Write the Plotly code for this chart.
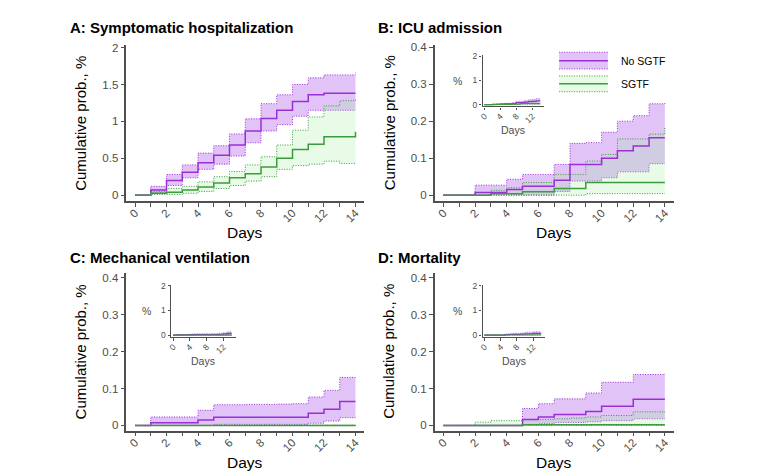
import plotly.graph_objects as go

W, H = 780, 475
FONT = "Liberation Sans"

days = list(range(15))

# Panel A: Symptomatic hospitalization
a_no = [0, 0.07, 0.20, 0.31, 0.44, 0.54, 0.68, 0.87, 1.04, 1.15, 1.27, 1.36, 1.38, 1.38, 1.38]
a_no_hi = [0, 0.12, 0.28, 0.41, 0.57, 0.67, 0.83, 1.035, 1.24, 1.36, 1.50, 1.59, 1.63, 1.63, 1.66]
a_no_lo = [0, 0.035, 0.13, 0.235, 0.35, 0.42, 0.53, 0.71, 0.87, 0.955, 1.07, 1.15, 1.15, 1.15, 1.15]
a_sg = [0, 0.027, 0.04, 0.07, 0.11, 0.165, 0.235, 0.29, 0.38, 0.50, 0.62, 0.69, 0.79, 0.79, 0.86]
a_sg_hi = [0, 0.05, 0.09, 0.12, 0.18, 0.25, 0.32, 0.41, 0.52, 0.68, 0.88, 1.06, 1.21, 1.28, 1.30]
a_sg_lo = [0, 0.01, 0.01, 0.025, 0.05, 0.09, 0.13, 0.19, 0.25, 0.35, 0.40, 0.42, 0.46, 0.43, 0.43]

# Panel B: ICU admission
b_no = [0, 0, 0.007, 0.007, 0.015, 0.024, 0.024, 0.04, 0.083, 0.083, 0.10, 0.12, 0.133, 0.155, 0.155]
b_no_hi = [0, 0, 0.027, 0.027, 0.043, 0.056, 0.056, 0.083, 0.14, 0.142, 0.17, 0.20, 0.215, 0.247, 0.25]
b_no_lo = [0, 0, 0, 0, 0, 0, 0, 0.01, 0.038, 0.038, 0.047, 0.063, 0.063, 0.085, 0.085]
b_sg = [0, 0, 0, 0.004, 0.004, 0.009, 0.009, 0.018, 0.018, 0.034, 0.034, 0.034, 0.034, 0.034, 0.034]
b_sg_hi = [0, 0, 0, 0.013, 0.02, 0.034, 0.034, 0.056, 0.056, 0.092, 0.11, 0.152, 0.152, 0.165, 0.185]
b_sg_lo = [0, 0, 0, 0, 0, 0, 0, 0, 0, 0.004, 0.004, 0.004, 0.004, 0.004, 0.004]

# Panel C: Mechanical ventilation
c_no = [0, 0.007, 0.007, 0.007, 0.015, 0.022, 0.022, 0.022, 0.022, 0.022, 0.022, 0.033, 0.044, 0.065, 0.065]
c_no_hi = [0, 0.023, 0.023, 0.023, 0.041, 0.056, 0.056, 0.057, 0.057, 0.058, 0.059, 0.077, 0.095, 0.13, 0.13]
c_no_lo = [0, 0, 0, 0, 0, 0.003, 0.003, 0.003, 0.003, 0.003, 0.003, 0.006, 0.012, 0.021, 0.021]
c_sg = [0] * 15
c_sg_hi = [0, 0, 0, 0, 0, 0.001, 0.001, 0.001, 0.001, 0.001, 0.001, 0.001, 0.001, 0.001, 0.001]
c_sg_lo = [0] * 15

# Panel D: Mortality
d_no = [0, 0, 0, 0, 0, 0.016, 0.023, 0.03, 0.03, 0.038, 0.052, 0.052, 0.071, 0.071, 0.071]
d_no_hi = [0, 0, 0, 0, 0, 0.046, 0.059, 0.072, 0.072, 0.088, 0.117, 0.117, 0.138, 0.138, 0.14]
d_no_lo = [0, 0, 0, 0, 0, 0.002, 0.005, 0.008, 0.008, 0.01, 0.013, 0.013, 0.018, 0.018, 0.018]
d_sg = [0, 0, 0, 0, 0, 0.002, 0.002, 0.002, 0.002, 0.002, 0.002, 0.002, 0.002, 0.002, 0.002]
d_sg_hi = [0, 0, 0.009, 0.013, 0.013, 0.016, 0.016, 0.018, 0.02, 0.023, 0.027, 0.027, 0.037, 0.037, 0.035]
d_sg_lo = [0] * 15

titles = ["A: Symptomatic hospitalization", "B: ICU admission",
          "C: Mechanical ventilation", "D: Mortality"]
series_names = ["No SGTF", "SGTF"]

PUR_LINE = "#9b2fd6"
PUR_FILL = "rgba(150,40,230,0.28)"
GRN_LINE = "#3d9a3d"
GRN_FILL = "rgba(144,238,144,0.22)"
AX = "#505050"
TXT = "#4d4d4d"
DOT = "1px,1.5px"


def px(x):
    return x / W


def py(y):
    return 1 - y / H


fig = go.Figure()

panels = [
    dict(data=(a_no, a_no_hi, a_no_lo, a_sg, a_sg_hi, a_sg_lo), xd=(123, 362), yd=(42, 200),
         yr=[-0.08, 2.03], yt=[0, 0.5, 1, 1.5, 2], ytt=["0", "0.5", "1", "1.5", "2"], inset=None),
    dict(data=(b_no, b_no_hi, b_no_lo, b_sg, b_sg_hi, b_sg_lo), xd=(433, 673), yd=(42, 200),
         yr=[-0.016, 0.405], yt=[0, 0.1, 0.2, 0.3, 0.4], ytt=["0", "0.1", "0.2", "0.3", "0.4"],
         inset=dict(xd=(481, 543), yd=(52, 104))),
    dict(data=(c_no, c_no_hi, c_no_lo, c_sg, c_sg_hi, c_sg_lo), xd=(123, 362), yd=(273, 433),
         yr=[-0.014, 0.413], yt=[0, 0.1, 0.2, 0.3, 0.4], ytt=["0", "0.1", "0.2", "0.3", "0.4"],
         inset=dict(xd=(168, 233), yd=(285, 338))),
    dict(data=(d_no, d_no_hi, d_no_lo, d_sg, d_sg_hi, d_sg_lo), xd=(433, 673), yd=(273, 433),
         yr=[-0.014, 0.413], yt=[0, 0.1, 0.2, 0.3, 0.4], ytt=["0", "0.1", "0.2", "0.3", "0.4"],
         inset=dict(xd=(481, 544), yd=(285, 338))),
]


def add_series(data, xa, ya, lw, bw):
    no, no_hi, no_lo, sg, sg_hi, sg_lo = data
    common = dict(x=days, mode="lines", xaxis=xa, yaxis=ya, showlegend=False, hoverinfo="skip")
    fig.add_trace(go.Scatter(y=no_lo, line=dict(color=PUR_LINE, width=bw, dash=DOT, shape="hv"), **common))
    fig.add_trace(go.Scatter(y=no_hi, fill="tonexty", fillcolor=PUR_FILL,
                             line=dict(color=PUR_LINE, width=bw, dash=DOT, shape="hv"), **common))
    fig.add_trace(go.Scatter(y=sg_lo, line=dict(color=GRN_LINE, width=bw, dash=DOT, shape="hv"), **common))
    fig.add_trace(go.Scatter(y=sg_hi, fill="tonexty", fillcolor=GRN_FILL,
                             line=dict(color=GRN_LINE, width=bw, dash=DOT, shape="hv"), **common))
    fig.add_trace(go.Scatter(y=no, line=dict(color=PUR_LINE, width=lw, shape="hv"), name=series_names[0], **common))
    fig.add_trace(go.Scatter(y=sg, line=dict(color=GRN_LINE, width=lw, shape="hv"), name=series_names[1], **common))


layout = {}
annotations = []
ax_n = 0
xtick_vals = list(range(15))
xtick_text = [str(d) if d % 2 == 0 else "" for d in xtick_vals]

for i, p in enumerate(panels):
    ax_n += 1
    xa, ya = f"x{ax_n}", f"y{ax_n}"
    add_series(p["data"], xa, ya, 1.5, 1)
    layout[f"xaxis{ax_n}"] = dict(
        domain=[px(p["xd"][0]), px(p["xd"][1])], anchor=ya, range=[-0.55, 14.55],
        tickvals=xtick_vals, ticktext=xtick_text, tickangle=-45, ticklabelstandoff=-5,
        showline=True, linecolor=AX, linewidth=1.5, ticks="outside", ticklen=4,
        tickcolor=AX, tickwidth=1.2, showgrid=False, zeroline=False,
        tickfont=dict(family=FONT, size=11.5, color=TXT), fixedrange=True)
    layout[f"yaxis{ax_n}"] = dict(
        domain=[py(p["yd"][1]), py(p["yd"][0])], anchor=xa, range=p["yr"],
        tickvals=p["yt"], ticktext=p["ytt"],
        showline=True, linecolor=AX, linewidth=1.5, ticks="outside", ticklen=4,
        tickcolor=AX, tickwidth=1.2, showgrid=False, zeroline=False,
        tickfont=dict(family=FONT, size=11.5, color=TXT), fixedrange=True)
    tx = 64 if i % 2 == 0 else 374
    ty = 24 if i < 2 else 257
    annotations.append(dict(text=f"<b>{titles[i]}</b>", x=px(tx), y=py(ty), xref="paper", yref="paper",
                            xanchor="left", yanchor="middle", showarrow=False,
                            font=dict(family=FONT, size=15, color="black")))
    cx = (p["xd"][0] + 8 + p["xd"][1] - 9) / 2
    cy = (p["yd"][0] + p["yd"][1]) / 2
    annotations.append(dict(text="Cumulative prob., %", x=px(p["xd"][0] - 46), y=py(cy), xref="paper",
                            yref="paper", textangle=-90, xanchor="center", yanchor="middle",
                            showarrow=False, font=dict(family=FONT, size=15, color="black")))
    annotations.append(dict(text="Days", x=px(cx), y=py(p["yd"][1] + 32), xref="paper", yref="paper",
                            xanchor="center", yanchor="middle", showarrow=False,
                            font=dict(family=FONT, size=15.5, color="black")))
    ins = p["inset"]
    if ins:
        ax_n += 1
        xa, ya = f"x{ax_n}", f"y{ax_n}"
        add_series(p["data"], xa, ya, 1.2, 0.6)
        layout[f"xaxis{ax_n}"] = dict(
            domain=[px(ins["xd"][0]), px(ins["xd"][1])], anchor=ya, range=[-0.5, 15],
            tickvals=[0, 4, 8, 12], ticktext=["0", "4", "8", "12"], tickangle=-45, ticklabelstandoff=-2,
            showline=True, linecolor=AX, linewidth=1.2, ticks="outside", ticklen=2.5,
            tickcolor=AX, tickwidth=1, showgrid=False, zeroline=False,
            tickfont=dict(family=FONT, size=8.5, color=TXT), fixedrange=True)
        layout[f"yaxis{ax_n}"] = dict(
            domain=[py(ins["yd"][1]), py(ins["yd"][0])], anchor=xa, range=[-0.08, 2.04],
            tickvals=[0, 1, 2], ticktext=["0", "1", "2"],
            showline=True, linecolor=AX, linewidth=1.2, ticks="outside", ticklen=2.5,
            tickcolor=AX, tickwidth=1, showgrid=False, zeroline=False,
            tickfont=dict(family=FONT, size=8.5, color=TXT), fixedrange=True)
        icy = (ins["yd"][0] + ins["yd"][1]) / 2
        annotations.append(dict(text="%", x=px(ins["xd"][0] - 25), y=py(icy), xref="paper", yref="paper",
                                xanchor="center", yanchor="middle", showarrow=False,
                                font=dict(family=FONT, size=10.5, color=TXT)))
        annotations.append(dict(text="Days", x=px((ins["xd"][0] + ins["xd"][1]) / 2), y=py(ins["yd"][1] + 24),
                                xref="paper", yref="paper", xanchor="center", yanchor="middle",
                                showarrow=False, font=dict(family=FONT, size=10.5, color=TXT)))

# Legend (panel B)
shapes = []
leg = [(PUR_FILL, PUR_LINE, 49, 66, series_names[0]), (GRN_FILL, GRN_LINE, 73, 89, series_names[1])]
for fillc, linec, y0, y1, name in leg:
    shapes.append(dict(type="rect", xref="paper", yref="paper", x0=px(558), x1=px(607), y0=py(y1), y1=py(y0),
                       fillcolor=fillc, line=dict(width=0)))
    for yy in (y0, y1):
        shapes.append(dict(type="line", xref="paper", yref="paper", x0=px(558), x1=px(607), y0=py(yy), y1=py(yy),
                           line=dict(color=linec, width=1, dash=DOT)))
    ym = (y0 + y1) / 2
    shapes.append(dict(type="line", xref="paper", yref="paper", x0=px(558), x1=px(607), y0=py(ym), y1=py(ym),
                       line=dict(color=linec, width=1.5)))
    annotations.append(dict(text=name, x=px(618), y=py(ym), xref="paper", yref="paper", xanchor="left",
                            yanchor="middle", showarrow=False, font=dict(family=FONT, size=10.5, color="black")))

fig.update_layout(
    width=W, height=H, margin=dict(l=0, r=0, t=0, b=0),
    paper_bgcolor="white", plot_bgcolor="white", showlegend=False,
    annotations=annotations, shapes=shapes, **layout)

fig.write_html("out.html")
